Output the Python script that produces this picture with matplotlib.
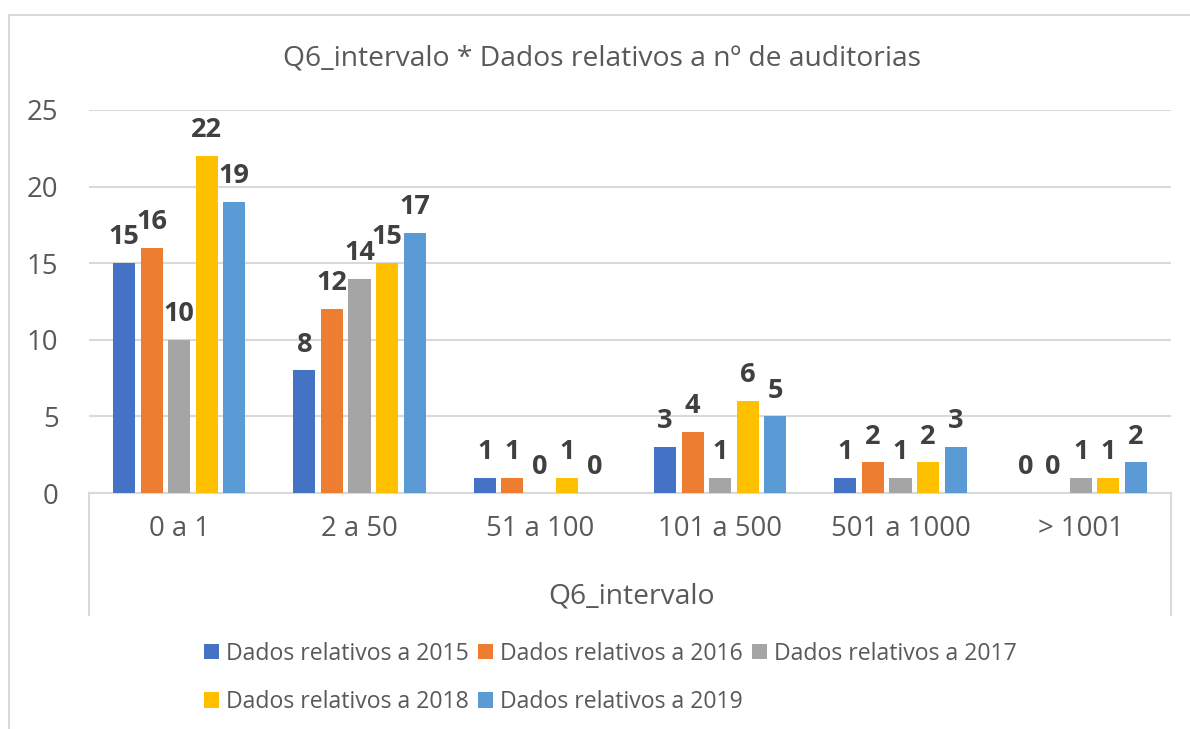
import numpy as np
import matplotlib.pyplot as plt
from matplotlib.lines import Line2D
from matplotlib.patches import Rectangle

plt.rcParams['font.family'] = ['Open Sans', 'DejaVu Sans']

categorias = ['0 a 1', '2 a 50', '51 a 100', '101 a 500', '501 a 1000', '> 1001']
anos = ['Dados relativos a 2015', 'Dados relativos a 2016', 'Dados relativos a 2017',
        'Dados relativos a 2018', 'Dados relativos a 2019']
d2015 = [15, 8, 1, 3, 1, 0]
d2016 = [16, 12, 1, 4, 2, 0]
d2017 = [10, 14, 0, 1, 1, 1]
d2018 = [22, 15, 1, 6, 2, 1]
d2019 = [19, 17, 0, 5, 3, 2]
series = [d2015, d2016, d2017, d2018, d2019]
cores = ['#4472C4', '#ED7D31', '#A5A5A5', '#FFC000', '#5B9BD5']

W, H = 1190, 729
fig = plt.figure(figsize=(W / 100, H / 100), dpi=100)

def fx(px):
    return px / W

def fy(py):
    return 1 - py / H

# moldura do grafico
fig.add_artist(Rectangle((fx(9), fy(760)), fx(1200) - fx(9), fy(15) - fy(760),
                         transform=fig.transFigure, fill=False, ec='#D9D9D9', lw=1.5))

ax = fig.add_axes([fx(89), fy(493), fx(1171) - fx(89), fy(110) - fy(493)])
x = np.arange(len(categorias))
slot = 0.153
larg = 0.122
barras = []
for i, (s, c, nome) in enumerate(zip(series, cores, anos)):
    pos = x + (i - 2) * slot
    b = ax.bar(pos, s, width=larg, color=c, label=nome, zorder=3)
    barras.append(b)
    for p, v in zip(pos, s):
        ax.annotate(str(v), (p, v), xytext=(0, 13.5), textcoords='offset points',
                    ha='center', va='baseline', fontsize=19.5, fontweight='bold', color='#404040')

ax.set_xlim(-0.5, len(categorias) - 0.5)
ax.set_ylim(0, 25)
ax.set_yticks([0, 5, 10, 15, 20, 25])
ax.yaxis.grid(True, color='#D9D9D9', lw=1.5, zorder=0)
ax.set_xticks(x)
ax.set_xticklabels(categorias)
ax.tick_params(axis='both', length=0, labelsize=19.8, labelcolor='#595959')
ax.tick_params(axis='x', pad=16)
ax.tick_params(axis='y', pad=22)
for sp in ['top', 'right', 'left']:
    ax.spines[sp].set_visible(False)
ax.spines['bottom'].set_color('#D9D9D9')
ax.spines['bottom'].set_linewidth(1.5)

# linhas verticais da area do campo do eixo
for xp in [89, 1171]:
    fig.add_artist(Line2D([fx(xp), fx(xp)], [fy(493), fy(615)], transform=fig.transFigure,
                          color='#D9D9D9', lw=1.5))

fig.text(fx(602), fy(58), 'Q6_intervalo * Dados relativos a nº de auditorias',
         ha='center', va='center', fontsize=20.3, color='#595959')
fig.text(fx(631), fy(597), 'Q6_intervalo', ha='center', va='center', fontsize=20.3, color='#595959')

# ordem por linhas como no Excel
ordem = [0, 3, 1, 4, 2]
fig.legend([barras[k] for k in ordem], [anos[k] for k in ordem],
           loc='center', bbox_to_anchor=(fx(610), fy(678)), ncol=3, frameon=False,
           fontsize=16.6, labelcolor='#595959', handlelength=0.65, handleheight=0.65,
           handletextpad=0.3, columnspacing=0.4, labelspacing=1.05, borderpad=0)

fig.savefig('out.png', dpi=100)
